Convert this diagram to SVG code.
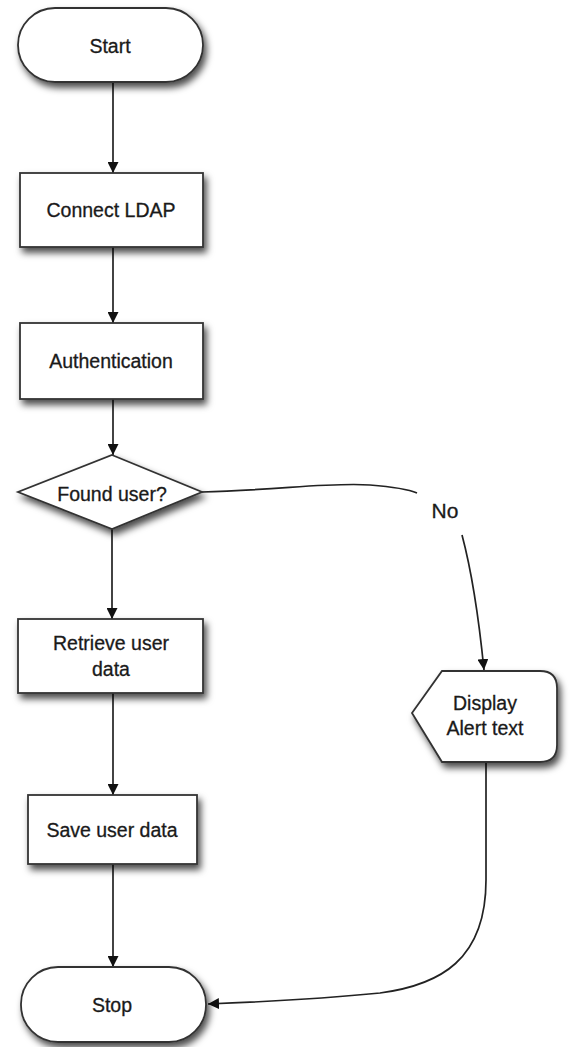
<svg xmlns="http://www.w3.org/2000/svg" width="570" height="1047" viewBox="0 0 570 1047">
<defs>
<filter id="sh" x="-20%" y="-20%" width="150%" height="160%">
<feDropShadow dx="3" dy="5" stdDeviation="3.5" flood-color="#000" flood-opacity="0.7"/>
</filter>
<marker id="ah" viewBox="0 0 10 10" refX="10" refY="5" markerWidth="11" markerHeight="11" markerUnits="userSpaceOnUse" orient="auto">
<path d="M0,0 L10,5 L0,10 z" fill="#111"/>
</marker>
<style>
.n{fill:#fff;stroke:#333;stroke-width:1.8;filter:url(#sh)}
.t{font-family:"Liberation Sans",Arial,sans-serif;font-size:19.5px;fill:#1a1a1a;text-anchor:middle;stroke:#1a1a1a;stroke-width:0.3}
.c{fill:none;stroke:#222;stroke-width:1.7;marker-end:url(#ah)}
.cl{fill:none;stroke:#222;stroke-width:1.7}
</style>
</defs>
<g id="connectors">
<path class="c" d="M113,82 L113,173"/>
<path class="c" d="M113,247 L113,323"/>
<path class="c" d="M113,399 L113,455"/>
<path class="c" d="M112,529 L112,619"/>
<path class="c" d="M113,693 L113,795"/>
<path class="c" d="M113,864 L113,967"/>
<path class="cl" d="M202,492 C280,490 330,482 370,485 C395,487 410,490 417,493"/>
<path class="c" d="M462,535 C470,565 478,610 484,670"/>
<path class="c" d="M486,762 L486,880 C486,960 440,985 380,993 C320,999 260,1002 208,1004"/>
<text class="t" x="445" y="518" style="font-size:21px">No</text>
</g>
<g id="start">
<rect class="n" x="18" y="8" width="185" height="74" rx="37" ry="37"/>
<text class="t" x="110" y="53">Start</text>
</g>
<g id="connect-ldap">
<rect class="n" x="20" y="173" width="183" height="74"/>
<text class="t" x="111" y="217">Connect LDAP</text>
</g>
<g id="authentication">
<rect class="n" x="20" y="323" width="183" height="76"/>
<text class="t" x="111" y="368">Authentication</text>
</g>
<g id="found-user">
<polygon class="n" points="112,455 202,492 112,529 18,492"/>
<text class="t" x="112" y="501">Found user?</text>
</g>
<g id="retrieve">
<rect class="n" x="18" y="619" width="185" height="74"/>
<text class="t" x="111" y="650">Retrieve user</text>
<text class="t" x="111" y="676">data</text>
</g>
<g id="save">
<rect class="n" x="28" y="795" width="169" height="69"/>
<text class="t" x="112" y="837">Save user data</text>
</g>
<g id="stop">
<rect class="n" x="21" y="967" width="185" height="75" rx="37" ry="37"/>
<text class="t" x="112" y="1012">Stop</text>
</g>
<g id="display-alert">
<path class="n" d="M412,713 L442,671 L540,671 Q557,671 557,688 L557,745 Q557,762 540,762 L442,762 Z"/>
<text class="t" x="485" y="710">Display</text>
<text class="t" x="485" y="735">Alert text</text>
</g>
</svg>
